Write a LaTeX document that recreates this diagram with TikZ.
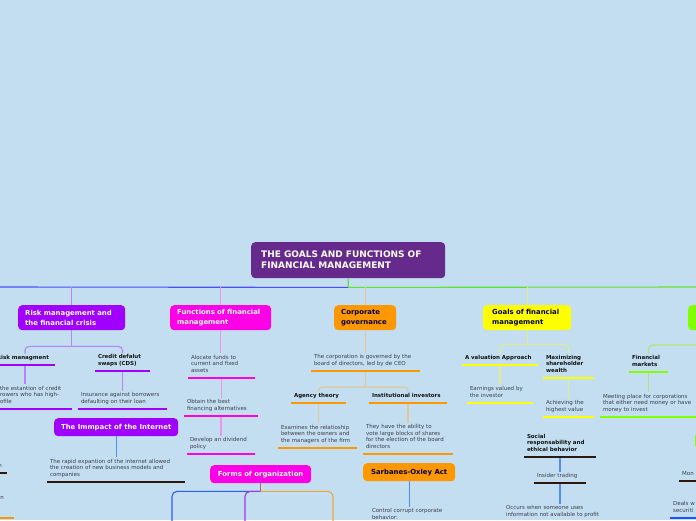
\documentclass[tikz,border=0pt]{standalone}
\usepackage{fontspec}
\setmainfont{DejaVu Sans}
\usetikzlibrary{positioning}

\definecolor{skyback}{RGB}{194,222,240}
\definecolor{rootviolet}{RGB}{102,42,140}
\definecolor{riskviolet}{RGB}{160,0,255}
\definecolor{funcpink}{RGB}{255,0,230}
\definecolor{govorange}{RGB}{255,152,0}
\definecolor{goalyellow}{RGB}{255,255,0}
\definecolor{marketgreen}{RGB}{128,255,0}
\definecolor{darkbrown}{RGB}{44,24,14}
\definecolor{notegray}{RGB}{62,62,74}
\definecolor{linkblue}{RGB}{80,140,255}
\definecolor{trunkblue}{RGB}{70,80,250}
\definecolor{trunkgreen}{RGB}{100,225,50}
\definecolor{risklight}{RGB}{185,130,250}
\definecolor{funclight}{RGB}{235,150,235}
\definecolor{govlight}{RGB}{225,200,150}
\definecolor{goallight}{RGB}{225,235,140}
\definecolor{greenlight}{RGB}{175,230,120}
\definecolor{formsred}{RGB}{190,100,90}
\definecolor{formsblue}{RGB}{50,90,255}
\definecolor{formspurple}{RGB}{160,50,255}
\definecolor{formsorange}{RGB}{240,170,60}
\definecolor{ulblue}{RGB}{30,80,255}

\begin{document}
\begin{tikzpicture}[x=1pt, y=-1pt,
  topic/.style={rounded corners=4pt, anchor=north west, inner xsep=7pt, inner ysep=0pt, align=left, font=\fontsize{6.9}{9.5}\selectfont\bfseries},
  floater/.style={rounded corners=4pt, anchor=north west, inner sep=0pt, font=\fontsize{6.9}{9.5}\selectfont\bfseries},
  note/.style={anchor=south, inner xsep=3pt, inner ysep=1.5pt, align=left, text=notegray, font=\fontsize{5.5}{6.7}\selectfont,
    execute at end node={\rule[-3.7pt]{0pt}{3.7pt}}},
  tag/.style={note, text=black!92, font=\fontsize{5.5}{6.7}\selectfont\bfseries},
  link/.style={line width=1.1pt},
  ul/.style={line width=2.6pt}]
\useasboundingbox (0,0) rectangle (696,520);
\fill[skyback] (0,0) rectangle (696,520);
\clip (0,0) rectangle (696,520);

% central topic and main branches
\node[topic, fill=rootviolet, text=white, inner xsep=10pt, text width=174pt, minimum height=36pt, font=\fontsize{9}{11}\selectfont\bfseries] (root) at (251,242) {THE GOALS AND FUNCTIONS OF\\FINANCIAL MANAGEMENT};
\node[topic, fill=riskviolet, text=white, text width=93pt, minimum height=25pt] (risk) at (18,305) {Risk management and\\the financial crisis};
\node[topic, fill=funcpink, text=white, text width=87pt, minimum height=25pt] (func) at (170,305) {Functions of financial\\management};
\node[topic, fill=govorange, text width=48pt, minimum height=25pt] (gov) at (334,305) {Corporate\\governance};
\node[topic, fill=goalyellow, inner xsep=9pt, text width=70pt, minimum height=25pt] (goals) at (483,305) {Goals of financial\\management};
\node[topic, fill=marketgreen, text width=66pt, minimum height=25pt] (markettopic) at (688,305) {};

\path (root.south) ++(0,9) coordinate (trunk);
\coordinate (leftend) at (0,287);
\coordinate (rightend) at (696,287);
\draw[link, trunkgreen] (root.south) -- (trunk) -- (rightend);
\draw[link, trunkblue] (trunk) -- (leftend);
\draw[link, risklight] (risk.north |- trunk) -- (risk.north);
\draw[link, funclight] (func.north |- trunk) -- (func.north);
\draw[link, govlight] (gov.north |- trunk) -- (gov.north);
\draw[link, goallight] (goals.north |- trunk) -- (goals.north);

% risk management
\node[tag, inner xsep=2pt, text width=56pt] (riskmg) at (25,365) {Risk managment};
\node[tag, text width=49pt] (cds) at (122.5,371) {Credit defalut\\swaps (CDS)};
\node[note, text width=69pt] (riskdesc) at (34.5,409) {the estantion of credit\\rowers who has high-\\ofile};
\node[note, text width=83pt] (insure) at (122.5,409) {Insurance against borrowers\\defaulting on their loan};
\path (risk.south) ++(0,16) coordinate (riskfork);
\draw[link, risklight] (risk.south) -- (riskfork);
\draw[link, risklight, rounded corners=4pt] (riskfork) -| (riskmg.north);
\draw[link, risklight, rounded corners=4pt] (riskfork) -| (cds.north);

\node[floater, fill=riskviolet, text=white, minimum width=124pt, minimum height=18pt] (internet) at (54,418) {The Immpact of the Internet};
\node[note, text width=132pt] (netdesc) at (116,482) {The rapid expantion of the internet allowed\\the creation of new business models and\\companies};

% functions
\node[note, text width=61pt] (alloc) at (221.5,378) {Alocate funds to\\current and fixed\\assets};
\node[note, text width=68pt] (obtain) at (221,416) {Obtain the best\\financing alternatives};
\node[note, text width=62pt] (dividend) at (221,454) {Develop an dividend\\policy};
\node[floater, fill=funcpink, text=white, minimum width=101pt, minimum height=18pt] (forms) at (210,465) {Forms of organization};
\path (forms.south) ++(0,8) coordinate (formsfork);
\coordinate (formsA) at (172,530);
\coordinate (formsB) at (245,530);
\coordinate (formsC) at (333,530);
\draw[link, formsred] (forms.south) -- (formsfork);
\draw[link, formsblue, rounded corners=5pt] (formsfork) -| (formsA);
\draw[link, formspurple, rounded corners=5pt] (formsfork) -| (formsB);
\draw[link, formsorange, rounded corners=5pt] (formsfork) -| (formsC);

% corporate governance
\node[note, text width=103pt] (govdesc) at (365.5,371) {The corporation is governed by the\\board of directors, led by de CEO};
\node[tag, text width=49pt] (agency) at (318.5,403) {Agency theory};
\node[tag, text width=72pt] (investors) at (408,403) {Institutional investors};
\node[note, text width=73pt] (relation) at (317.5,448) {Examines the relatioship\\between the owners and\\the managers of the firm};
\node[note, text width=84pt] (voting) at (408,454) {They have the ability to\\vote large blocks of shares\\for the election of the board\\directors};
\path (govdesc.south) ++(0,16) coordinate (govfork);
\draw[link, govlight] (govdesc.south) -- (govfork);
\draw[link, govlight, rounded corners=4pt] (govfork) -| (agency.north);
\draw[link, govlight, rounded corners=4pt] (govfork) -| (investors.north);
\node[floater, fill=govorange, minimum width=92pt, minimum height=18pt] (sox) at (363,463) {Sarbanes-Oxley Act};
\node[note, anchor=north, text width=76pt] (soxdesc) at (410,507) {Control corrupt corporate\\behavior:};

% goals
\node[tag, text width=70pt] (valuation) at (500,365) {A valuation Approach};
\node[tag, text width=45pt] (maximize) at (568.5,378) {Maximizing\\shareholder\\wealth};
\node[note, text width=60pt] (earnings) at (500,403) {Earnings valued by\\the investor};
\node[note, text width=45pt] (achieve) at (568.5,417) {Achieving the\\highest value};
\path (goals.south) ++(0,14) coordinate (goalfork);
\draw[link, goallight] (goals.south) -- (goalfork);
\draw[link, goallight, rounded corners=4pt] (goalfork) -| (valuation.north);
\draw[link, goallight, rounded corners=4pt] (goalfork) -| (maximize.north);
\node[tag, text width=66pt] (social) at (560,457) {Social\\responsability and\\ethical behavior};
\node[note, text width=46pt] (insider) at (560,483) {Insider trading};
\node[note, anchor=north, text width=108pt] (occurs) at (560,504) {Occurs when someone uses\\information not available to profit};

% financial markets
\coordinate (greenfork) at (700,345);
\node[tag, text width=33pt] (markets) at (648.5,372) {Financial\\markets};
\node[note, text width=94pt] (meeting) at (650,417) {Meeting place for corporations\\that either need money or have\\money to invest};
\draw[link, greenlight, rounded corners=4pt] (greenfork) -| (markets.north);
\node[floater, fill=marketgreen, minimum width=90pt, minimum height=17pt] (greenbox) at (695,432) {};
\node[note, anchor=south west, text width=54pt] (money) at (679,481) {Mon};
\node[note, anchor=south west, text width=54pt] (deals) at (670,518) {Deals w\\securiti};

% cut-off items on the left
\node[note, anchor=south east, inner xsep=5pt] (fragA) at (7,473) {n};
\node[note, anchor=south east, inner xsep=10pt, text depth=16.7pt] (fragB) at (14,518) {n};

\foreach \a/\b/\c in {riskmg/riskdesc/risklight, cds/insure/risklight, internet/netdesc/linkblue,
    func/alloc/funclight, alloc/obtain/funclight, obtain/dividend/funclight, gov/govdesc/govlight,
    agency/relation/govlight, investors/voting/govlight, sox/soxdesc/linkblue,
    valuation/earnings/goallight, maximize/achieve/goallight, social/insider/linkblue,
    insider/occurs/linkblue, markets/meeting/greenlight}
  \draw[link, \c] (\a.south) -- (\a.south |- \b.north);

\foreach \n/\c in {riskmg/riskviolet, cds/riskviolet, riskdesc/riskviolet, insure/riskviolet,
    netdesc/darkbrown, alloc/funcpink, obtain/funcpink, dividend/funcpink, govdesc/govorange,
    agency/govorange, investors/govorange, relation/govorange, voting/govorange,
    valuation/goalyellow, maximize/goalyellow, earnings/goalyellow, achieve/goalyellow,
    social/darkbrown, insider/darkbrown, markets/marketgreen, meeting/marketgreen,
    money/darkbrown, deals/ulblue, fragA/darkbrown, fragB/govorange}
  \draw[ul, \c] (\n.south west) -- (\n.south east);
\end{tikzpicture}
\end{document}
